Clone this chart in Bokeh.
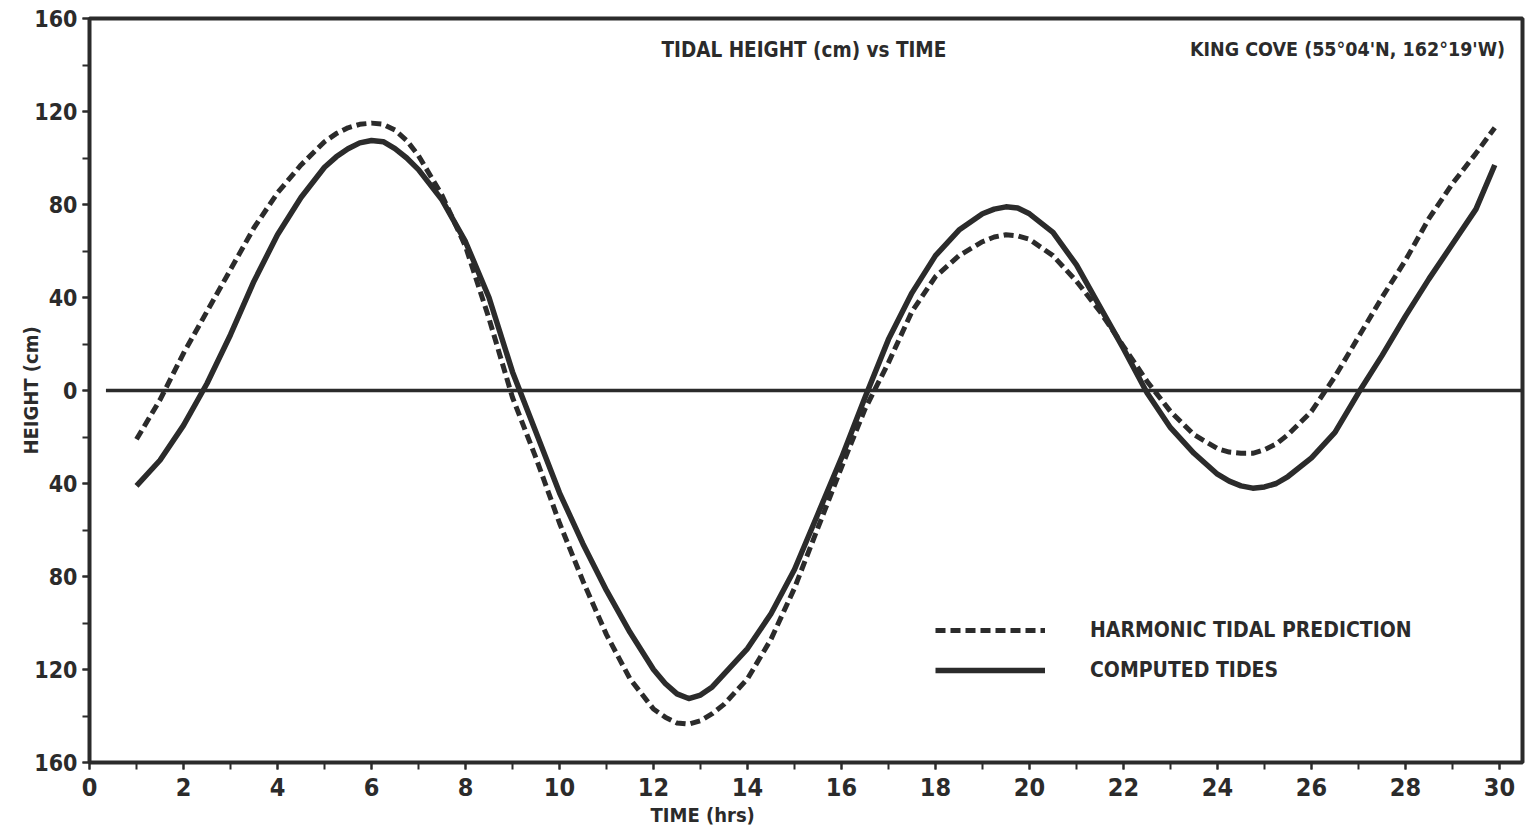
from bokeh.plotting import figure
from bokeh.models import Label, Legend, LegendItem, FixedTicker
from bokeh.embed import file_html
from bokeh.resources import INLINE

# ---- data ----
time_hrs = [1.0, 1.5, 2.0, 2.5, 3.0, 3.5, 4.0, 4.5, 5.0, 5.25,
            5.5, 5.75, 6.0, 6.25, 6.5, 6.75, 7.0, 7.5, 8.0, 8.5,
            9.0, 9.5, 10.0, 10.5, 11.0, 11.5, 12.0, 12.25, 12.5, 12.75,
            13.0, 13.25, 13.5, 14.0, 14.5, 15.0, 15.5, 16.0, 16.5, 17.0,
            17.5, 18.0, 18.5, 19.0, 19.25, 19.5, 19.75, 20.0, 20.5, 21.0,
            21.5, 22.0, 22.5, 23.0, 23.5, 24.0, 24.25, 24.5, 24.75, 25.0,
            25.25, 25.5, 26.0, 26.5, 27.0, 27.5, 28.0, 28.5, 29.0, 29.5,
            29.9]

harmonic_cm = [-21, -4, 16, 34, 52, 70, 85, 97, 107, 110.5,
               113, 114.5, 115, 114.5, 112, 107.5, 101, 84, 62, 31,
               -3, -29, -57, -82, -105, -124, -137, -140.5, -143, -143.5,
               -142, -139, -135, -124, -107, -85, -59, -33, -8, 12,
               34, 49, 58, 64, 66, 67, 66.5, 65, 58, 47,
               34, 19, 4, -9, -19, -25, -26.5, -27, -27, -25.5,
               -23, -19, -9, 6, 23, 40, 56, 74, 89, 102,
               113]

computed_cm = [-41, -30, -15, 3, 24, 47, 67, 83, 96, 100.5,
               104, 106.5, 107.5, 107, 104, 100, 95, 82, 64, 40,
               8, -18, -44, -66, -86, -104, -120, -126, -130.5, -132.5,
               -131, -127.5, -122, -111, -96, -77, -53, -29, -3, 22,
               42, 58, 69, 76, 78, 79, 78.5, 76, 68, 54,
               36, 18, -1, -16, -27, -36, -39, -41, -42, -41.5,
               -40, -37, -29, -18, -1, 15, 32, 48, 63, 78,
               97]

baseline_t = [0.35, 30.5]
baseline_h = [0, 0]

x_ticks = [0, 2, 4, 6, 8, 10, 12, 14, 16, 18, 20, 22, 24, 26, 28, 30]
y_ticks = [-160, -120, -80, -40, 0, 40, 80, 120, 160]
y_tick_labels = ["160", "120", "80", "40", "0", "40", "80", "120", "160"]

title_text = "TIDAL HEIGHT (cm) vs TIME"
station_text = "KING COVE (55°04'N, 162°19'W)"
x_title = "TIME (hrs)"
y_title = "HEIGHT (cm)"
series_names = ["HARMONIC TIDAL PREDICTION", "COMPUTED TIDES"]

INK = "#2b2b2b"
FONT = "DejaVu Sans Condensed"

p = figure(frame_width=1433, frame_height=744,
           x_range=(0, 30.49), y_range=(-160, 160),
           output_backend="svg", toolbar_location=None,
           min_border_left=89, min_border_right=4,
           min_border_top=18, min_border_bottom=66)
p.background_fill_color = "white"
p.border_fill_color = "white"
p.grid.visible = False
p.outline_line_color = INK
p.outline_line_width = 4

# axes
for ax in (p.xaxis[0], p.yaxis[0]):
    ax.axis_line_color = None
    ax.major_tick_line_color = INK
    ax.minor_tick_line_color = INK
    ax.major_tick_line_width = 2
    ax.minor_tick_line_width = 2
    ax.major_tick_in = 0
    ax.minor_tick_in = 0
    ax.major_tick_out = 7
    ax.minor_tick_out = 7
    ax.major_label_text_font = FONT
    ax.major_label_text_font_style = "bold"
    ax.major_label_text_color = INK

p.xaxis.ticker = FixedTicker(ticks=x_ticks,
                             minor_ticks=list(range(0, 31)))
p.xaxis.major_label_text_font_size = "25px"
p.xaxis.major_label_standoff = 8
# axis title sits left of centre in the reference: pad it on the right
p.xaxis.axis_label = x_title + "\u00a0" * 33
p.xaxis.axis_label_text_font = FONT
p.xaxis.axis_label_text_font_style = "bold"
p.xaxis.axis_label_text_font_size = "20px"
p.xaxis.axis_label_text_color = INK
p.xaxis.axis_label_standoff = 4

p.yaxis.ticker = FixedTicker(ticks=y_ticks,
                             minor_ticks=list(range(-160, 161, 20)))
p.yaxis.major_label_overrides = {t: l for t, l in zip(y_ticks, y_tick_labels)}
p.yaxis.major_label_text_font_size = "23px"
p.yaxis.major_label_standoff = 5
p.yaxis.axis_label = y_title
p.yaxis.axis_label_text_font = FONT
p.yaxis.axis_label_text_font_style = "bold"
p.yaxis.axis_label_text_font_size = "20px"
p.yaxis.axis_label_text_color = INK
p.yaxis.axis_label_standoff = -12

# zero line
p.line(baseline_t, baseline_h, line_color=INK, line_width=3.5)

# curves
r_comp = p.line(time_hrs, computed_cm, line_color=INK, line_width=5.5,
                line_join="round")
r_harm = p.line(time_hrs, harmonic_cm, line_color=INK, line_width=5,
                line_dash="10 5", line_cap="butt", line_join="round")

# legend
legend = Legend(items=[LegendItem(label=series_names[0], renderers=[r_harm]),
                       LegendItem(label=series_names[1], renderers=[r_comp])],
                location=(846, 77), orientation="vertical",
                glyph_width=110, glyph_height=30, label_height=30,
                label_standoff=45, spacing=10, padding=0, margin=0,
                border_line_color=None, background_fill_alpha=0,
                label_text_font=FONT, label_text_font_style="bold",
                label_text_font_size="21px", label_text_color=INK)
p.add_layout(legend, "center")

# texts
p.add_layout(Label(x=15.2, y=146.5, text=title_text, text_font=FONT,
                   text_font_style="bold", text_font_size="20.5px",
                   text_color=INK, text_align="center",
                   text_baseline="middle"))
p.add_layout(Label(x=30.12, y=146.5, text=station_text, text_font=FONT,
                   text_font_style="bold", text_font_size="19.5px",
                   text_color=INK, text_align="right",
                   text_baseline="middle"))

open("out.html", "w").write(file_html(p, INLINE))
